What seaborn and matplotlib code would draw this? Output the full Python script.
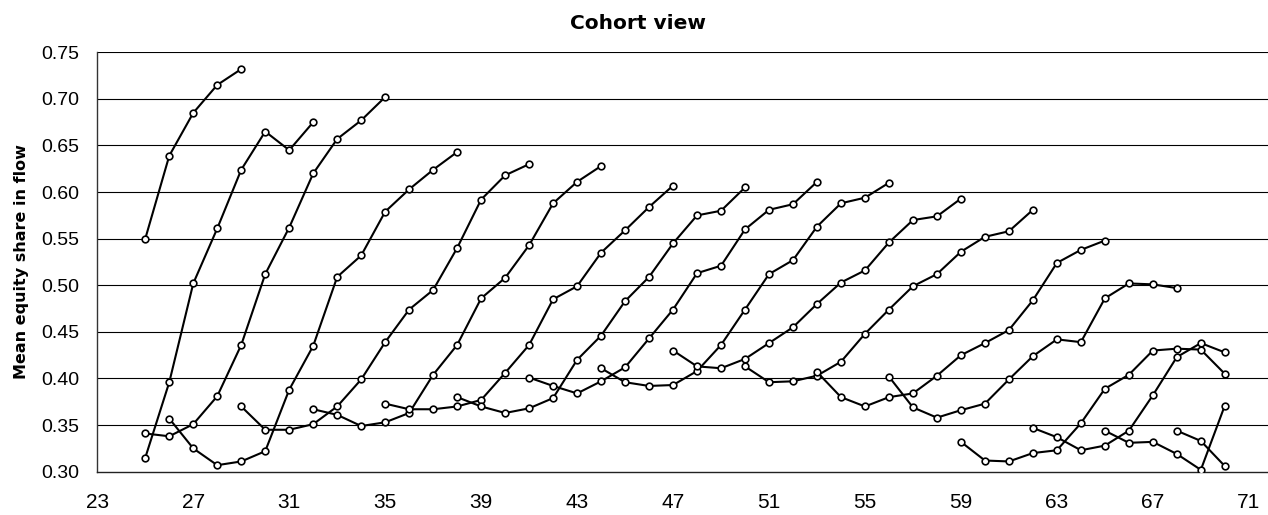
import numpy as np
import pandas as pd
import matplotlib
matplotlib.use("Agg")
import matplotlib.pyplot as plt
import seaborn as sns
from matplotlib.ticker import MultipleLocator, FixedLocator

# ---------------- data ----------------
cohort_names = ["A", "B", "C", "D", "E", "F", "G", "H", "I",
                "J", "K", "L", "M", "N", "O", "P", "Q", "R"]
cohort_start_age = [25, 25, 25, 26, 29, 32, 35, 38, 41,
                    44, 47, 50, 53, 56, 59, 62, 65, 68]

share_A = [0.550, 0.639, 0.685, 0.715, 0.732]
share_B = [0.315, 0.396, 0.502, 0.561, 0.624, 0.665, 0.645, 0.675]
share_C = [0.341, 0.338, 0.351, 0.381, 0.436, 0.512, 0.562, 0.620, 0.657, 0.677, 0.702]
share_D = [0.357, 0.325, 0.307, 0.311, 0.322, 0.388, 0.435, 0.509, 0.532, 0.579, 0.603, 0.624, 0.643]
share_E = [0.370, 0.345, 0.345, 0.351, 0.370, 0.399, 0.439, 0.474, 0.495, 0.540, 0.592, 0.618, 0.630]
share_F = [0.367, 0.361, 0.349, 0.353, 0.363, 0.404, 0.436, 0.486, 0.508, 0.543, 0.588, 0.611, 0.628]
share_G = [0.373, 0.367, 0.367, 0.370, 0.377, 0.406, 0.436, 0.485, 0.499, 0.535, 0.559, 0.584, 0.607]
share_H = [0.380, 0.370, 0.363, 0.368, 0.379, 0.420, 0.446, 0.483, 0.509, 0.545, 0.575, 0.580, 0.605]
share_I = [0.401, 0.392, 0.384, 0.397, 0.412, 0.443, 0.474, 0.513, 0.521, 0.560, 0.581, 0.587, 0.611]
share_J = [0.411, 0.396, 0.392, 0.393, 0.408, 0.436, 0.474, 0.512, 0.527, 0.563, 0.588, 0.594, 0.610]
share_K = [0.430, 0.413, 0.411, 0.421, 0.438, 0.455, 0.480, 0.503, 0.516, 0.546, 0.570, 0.574, 0.593]
share_L = [0.413, 0.396, 0.397, 0.403, 0.418, 0.448, 0.474, 0.499, 0.512, 0.536, 0.552, 0.558, 0.581]
share_M = [0.407, 0.380, 0.370, 0.380, 0.384, 0.403, 0.425, 0.438, 0.452, 0.484, 0.524, 0.538, 0.548]
share_N = [0.402, 0.369, 0.358, 0.366, 0.373, 0.399, 0.424, 0.442, 0.439, 0.486, 0.502, 0.501, 0.497]
share_O = [0.332, 0.312, 0.311, 0.320, 0.323, 0.352, 0.389, 0.404, 0.430, 0.432, 0.431, 0.405]
share_P = [0.347, 0.337, 0.323, 0.328, 0.344, 0.382, 0.423, 0.438, 0.428]
share_Q = [0.344, 0.331, 0.332, 0.319, 0.302, 0.371]
share_R = [0.344, 0.333, 0.306]

cohort_values = [share_A, share_B, share_C, share_D, share_E, share_F,
                 share_G, share_H, share_I, share_J, share_K, share_L,
                 share_M, share_N, share_O, share_P, share_Q, share_R]

x_tick_labels = ["23", "27", "31", "35", "39", "43", "47", "51", "55", "59", "63", "67", "71"]
y_tick_labels = ["0.30", "0.35", "0.40", "0.45", "0.50", "0.55", "0.60", "0.65", "0.70", "0.75"]

title_text = "Cohort view"
y_label_text = "Mean equity share in flow"

# long-form table built from the arrays above
rows = []
for name, start, vals in zip(cohort_names, cohort_start_age, cohort_values):
    for k, v in enumerate(vals):
        rows.append({"cohort": name, "age": start + k, "share": v})
df = pd.DataFrame(rows)

# ---------------- style ----------------
sns.set_style("white")
plt.rcParams["font.family"] = ["Liberation Sans", "DejaVu Sans"]
plt.rcParams["text.color"] = "black"
plt.rcParams["axes.labelcolor"] = "black"
plt.rcParams["xtick.color"] = "black"
plt.rcParams["ytick.color"] = "black"

W, H, DPI = 1268, 515, 100
fig = plt.figure(figsize=(W / DPI, H / DPI), dpi=DPI)
left_px, right_px, top_px, bottom_px = 97.3, 1268, 52.3, 471.7
ax = fig.add_axes([left_px / W, 1 - bottom_px / H,
                   (right_px - left_px) / W, (bottom_px - top_px) / H])

sns.lineplot(data=df, x="age", y="share", units="cohort", estimator=None,
             sort=False, color="black", linewidth=1.5, marker="o",
             markersize=4.8, markerfacecolor="white", markeredgecolor="black",
             markeredgewidth=1.2, legend=False, ax=ax, zorder=3)

ax.set_xlim(23, 71.8)
ax.set_ylim(0.30, 0.75)

# grid lines
y_ticks = [float(t) for t in y_tick_labels]
for yv in y_ticks[1:]:
    ax.axhline(yv, color="black", linewidth=0.8, zorder=1)

ax.xaxis.set_major_locator(FixedLocator([int(t) for t in x_tick_labels]))
ax.set_xticklabels(x_tick_labels)
ax.xaxis.set_minor_locator(MultipleLocator(1))
ax.set_yticks(y_ticks)
ax.set_yticklabels(y_tick_labels)

for s in ["top", "right"]:
    ax.spines[s].set_visible(False)
ax.spines["left"].set_color("#333333")
ax.spines["left"].set_linewidth(1.0)
ax.spines["bottom"].set_color("#222222")
ax.spines["bottom"].set_linewidth(1.0)

ax.tick_params(axis="x", which="major", direction="inout", length=9.5,
               width=1.0, color="#222222", pad=10.5, labelsize=15,
               labelcolor="black")
ax.tick_params(axis="x", which="minor", direction="inout", length=6.5,
               width=1.0, color="#222222")
ax.tick_params(axis="y", which="major", direction="out", length=5,
               width=1.0, color="#333333", pad=8, labelsize=14,
               labelcolor="black")
for lab in ax.get_xticklabels():
    lab.set_family(["Liberation Sans Narrow", "Liberation Sans", "DejaVu Sans"])

ax.set_xlabel("")
ax.set_ylabel(y_label_text, fontsize=11.5, fontweight="bold",
              family=["DejaVu Sans"], color="black")
ax.yaxis.set_label_coords(-0.0583, 0.5)

fig.text(0.503, 1 - 29.3 / H, title_text, ha="center", va="baseline",
         fontsize=14.5, fontweight="bold", family=["DejaVu Sans"],
         color="black")

fig.savefig("out.png", dpi=DPI)
